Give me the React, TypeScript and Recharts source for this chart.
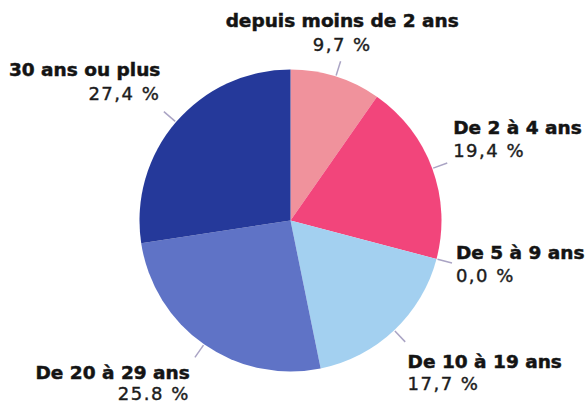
import { Cell, Pie, PieChart } from "recharts";

const CATEGORIES = [
  "depuis moins de 2 ans",
  "De 2 à 4 ans",
  "De 5 à 9 ans",
  "De 10 à 19 ans",
  "De 20 à 29 ans",
  "30 ans ou plus",
];
const SHARES = [9.7, 19.4, 0.0, 17.7, 25.8, 27.4];
const SHARE_LABELS = ["9,7 %", "19,4 %", "0,0 %", "17,7 %", "25.8 %", "27,4 %"];

const COLORS = ["#f0929c", "#f2457b", "#9fcbee", "#a3d0f0", "#5f73c6", "#25399a"];

// where each label sits relative to the point just outside its slice
const LABEL_LAYOUT = [
  { anchor: "middle", dx: 1, nameDy: -32, valueDy: -8 },
  { anchor: "start", dx: 4, nameDy: -28, valueDy: -5 },
  { anchor: "start", dx: 2, nameDy: -5, valueDy: 18 },
  { anchor: "start", dx: 1, nameDy: 25, valueDy: 47 },
  { anchor: "end", dx: -4, nameDy: 20, valueDy: 41 },
  { anchor: "end", dx: -2, nameDy: -34, valueDy: -10 },
];

const RADIAN = Math.PI / 180;
const FONT = "'DejaVu Sans', Verdana, sans-serif";

const data = CATEGORIES.map((name, i) => ({ name, value: SHARES[i], label: SHARE_LABELS[i] }));

function renderLabel(props: any) {
  const { cx, cy, midAngle, outerRadius, index } = props;
  const cos = Math.cos(-midAngle * RADIAN);
  const sin = Math.sin(-midAngle * RADIAN);
  const x1 = cx + (outerRadius + 1) * cos;
  const y1 = cy + (outerRadius + 1) * sin;
  const x2 = cx + (outerRadius + 16) * cos;
  const y2 = cy + (outerRadius + 16) * sin;
  const px = cx + (outerRadius + 18) * cos;
  const py = cy + (outerRadius + 18) * sin;
  const l = LABEL_LAYOUT[index];
  return (
    <g key={`lbl-${index}`}>
      <line x1={x1} y1={y1} x2={x2} y2={y2} stroke="#aaa4c4" strokeWidth={1.5} />
      <text
        x={px + l.dx}
        y={py + l.nameDy}
        textAnchor={l.anchor}
        fontFamily={FONT}
        fontWeight="bold"
        fontSize={18.5}
        fill="#141414"
        stroke="#141414"
        strokeWidth={0.5}
      >
        {CATEGORIES[index]}
      </text>
      <text
        x={px + l.dx}
        y={py + l.valueDy}
        textAnchor={l.anchor}
        fontFamily={FONT}
        fontSize={18}
        letterSpacing={1.5}
        fill="#1c1c1c"
        stroke="#1c1c1c"
        strokeWidth={0.4}
      >
        {SHARE_LABELS[index]}
      </text>
    </g>
  );
}

export default function App() {
  return (
    <div style={{ position: "absolute", left: 0, top: 0, background: "#fff" }}>
      <PieChart width={586} height={403} margin={{ top: 0, right: 0, bottom: 0, left: 0 }}>
        <Pie
          data={data}
          dataKey="value"
          nameKey="name"
          cx={290.5}
          cy={220.5}
          outerRadius={151}
          startAngle={90}
          endAngle={-270}
          stroke="none"
          label={renderLabel}
          labelLine={false}
          isAnimationActive={false}
        >
          {data.map((entry, i) => (
            <Cell key={entry.name} fill={COLORS[i]} />
          ))}
        </Pie>
      </PieChart>
    </div>
  );
}
